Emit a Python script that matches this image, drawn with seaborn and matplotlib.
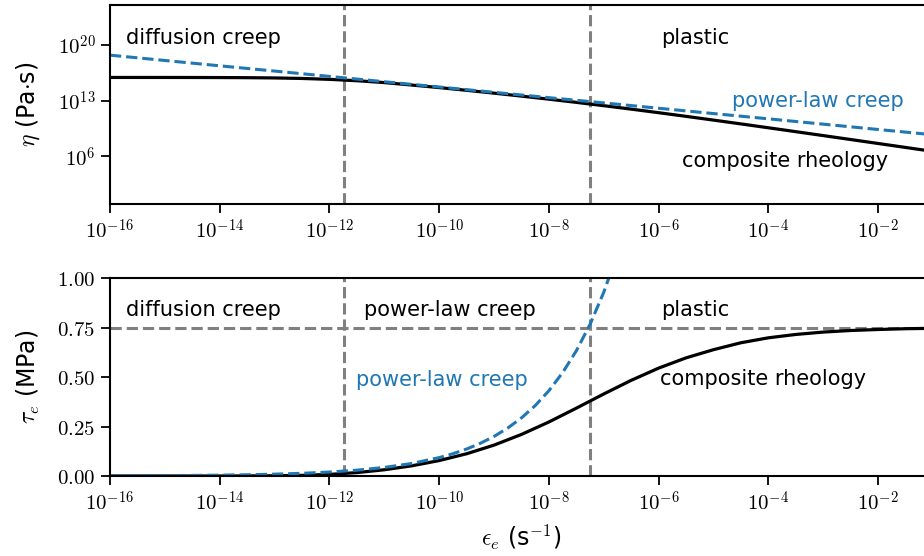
import numpy as np
import pandas as pd
import matplotlib
matplotlib.use("Agg")
import matplotlib.pyplot as plt
import seaborn as sns
from matplotlib.ticker import FixedLocator, FuncFormatter, NullLocator

# ---------------- data ----------------
# strain-rate exponents (log10 of s^-1)
rate_exp = [-16.0, -15.5, -15.0, -14.5, -14.0, -13.5, -13.0, -12.5, -12.0, -11.5,
            -11.0, -10.5, -10.0, -9.5, -9.0, -8.5, -8.0, -7.5, -7.0, -6.5,
            -6.0, -5.5, -5.0, -4.5, -4.0, -3.5, -3.0, -2.5, -2.0, -1.5, -1.0]
# log10 of composite viscosity (Pa s)
eta_composite_exp = [15.899, 15.898, 15.897, 15.893, 15.885, 15.869, 15.836, 15.772, 15.659, 15.486,
                     15.252, 14.944, 14.623, 14.281, 13.924, 13.553, 13.167, 12.767, 12.350, 11.917,
                     11.470, 11.010, 10.539, 10.061, 9.576, 9.086, 8.594, 8.099, 7.602, 7.105, 6.606]
# power-law creep viscosity
plaw_eta_rate_exp = [-16, -15, -14, -13, -12, -11, -10, -9, -8, -7, -6, -5, -4, -3, -2, -1]
plaw_eta_exp = [18.70, 18.03, 17.36, 16.70, 16.03, 15.36, 14.70, 14.03, 13.36, 12.70,
                12.03, 11.36, 10.70, 10.03, 9.36, 8.70]
# composite stress (MPa)
tau_composite = [0.0000, 0.0000, 0.0000, 0.0000, 0.0001, 0.0004, 0.0012, 0.0033, 0.0081, 0.0172,
                 0.0315, 0.0515, 0.0781, 0.1125, 0.1563, 0.2103, 0.2734, 0.3432, 0.4150, 0.4840,
                 0.5458, 0.5977, 0.6390, 0.6740, 0.6990, 0.7160, 0.7280, 0.7360, 0.7410, 0.7450, 0.7470]
# power-law creep stress (MPa)
plaw_tau_rate_exp = [-16, -15.5, -15, -14.5, -14, -13.5, -13, -12.5, -12, -11.5, -11, -10.5, -10,
                     -9.75, -9.5, -9.25, -9, -8.75, -8.5, -8.25, -8, -7.75, -7.5, -7.25, -7, -6.75, -6.5]
plaw_tau = [0.0009, 0.0014, 0.0020, 0.0029, 0.0043, 0.0063, 0.0093, 0.0136, 0.0200, 0.0294, 0.0432,
            0.0633, 0.0930, 0.1127, 0.1365, 0.1654, 0.2003, 0.2427, 0.2941, 0.3562, 0.4316, 0.5230,
            0.6335, 0.7675, 0.9298, 1.1266, 1.3648]
# regime boundaries and yield stress
boundary_exp = [-11.74, -7.26]
yield_stress = 0.75
x_tick_exp = [-16, -14, -12, -10, -8, -6, -4, -2]
eta_tick_exp = [6, 13, 20]
tau_ticks = [0.00, 0.25, 0.50, 0.75, 1.00]

# ---------------- frames ----------------
df_eta = pd.DataFrame({"rate": 10.0 ** np.array(rate_exp), "eta": 10.0 ** np.array(eta_composite_exp)})
df_eta_pl = pd.DataFrame({"rate": 10.0 ** np.array(plaw_eta_rate_exp, float), "eta": 10.0 ** np.array(plaw_eta_exp)})
df_tau = pd.DataFrame({"rate": 10.0 ** np.array(rate_exp), "tau": tau_composite})
df_tau_pl = pd.DataFrame({"rate": 10.0 ** np.array(plaw_tau_rate_exp, float), "tau": plaw_tau})

sns.set_style("ticks")
plt.rcParams["font.family"] = ["DejaVu Sans"]
plt.rcParams["mathtext.fontset"] = "cm"
plt.rcParams["text.color"] = "black"
plt.rcParams["axes.labelcolor"] = "black"
plt.rcParams["xtick.color"] = "black"
plt.rcParams["ytick.color"] = "black"
plt.rcParams["axes.edgecolor"] = "black"

W, H = 924, 556
fig = plt.figure(figsize=(W / 100, H / 100), dpi=100)
left, right = 110, 933
ax1 = fig.add_axes([left / W, 1 - 204 / H, (right - left) / W, 199 / H])
ax2 = fig.add_axes([left / W, 1 - 476 / H, (right - left) / W, 197.7 / H])

blue = "#1f77b4"
gray = "#808080"
lw_dash = 2.2
lw_solid = 2.3
fs_text = 15
fs_label = 17

# ---- top panel ----
sns.lineplot(data=df_eta, x="rate", y="eta", ax=ax1, color="black", lw=lw_solid,
             estimator=None, sort=False)
sns.lineplot(data=df_eta_pl, x="rate", y="eta", ax=ax1, color=blue, lw=lw_dash,
             linestyle="--", estimator=None, sort=False)
for b in boundary_exp:
    ax1.axvline(10.0 ** b, color=gray, lw=lw_dash, ls="--", zorder=0)
ax1.set_xscale("log")
ax1.set_yscale("log")
ax1.set_xlim(1e-16, 1e-1)
ax1.set_ylim(1e0, 1e25)

ax1.text(10 ** -15.71, 10 ** 20.9, "diffusion creep", fontsize=fs_text, va="center", ha="left")
ax1.text(10 ** -5.96, 10 ** 20.9, "plastic", fontsize=fs_text, va="center", ha="left")
ax1.text(10 ** -4.67, 10 ** 12.9, "power-law creep", fontsize=fs_text, va="center", ha="left", color=blue)
ax1.text(10 ** -5.58, 10 ** 5.4, "composite rheology", fontsize=fs_text, va="center", ha="left")
ax1.set_ylabel(r"$\eta$ (Pa$\cdot$s)", fontsize=fs_label, va="center")
ax1.set_xlabel("")

# ---- bottom panel ----
sns.lineplot(data=df_tau, x="rate", y="tau", ax=ax2, color="black", lw=lw_solid,
             estimator=None, sort=False)
sns.lineplot(data=df_tau_pl, x="rate", y="tau", ax=ax2, color=blue, lw=lw_dash,
             linestyle="--", estimator=None, sort=False)
for b in boundary_exp:
    ax2.axvline(10.0 ** b, color=gray, lw=lw_dash, ls="--", zorder=0)
ax2.axhline(yield_stress, color=gray, lw=lw_dash, ls="--", zorder=0)
ax2.set_xscale("log")
ax2.set_xlim(1e-16, 1e-1)
ax2.set_ylim(0, 1.0)

ax2.text(10 ** -15.71, 0.84, "diffusion creep", fontsize=fs_text, va="center", ha="left")
ax2.text(10 ** -11.37, 0.84, "power-law creep", fontsize=fs_text, va="center", ha="left")
ax2.text(10 ** -5.96, 0.84, "plastic", fontsize=fs_text, va="center", ha="left")
ax2.text(10 ** -11.51, 0.486, "power-law creep", fontsize=fs_text, va="center", ha="left", color=blue)
ax2.text(10 ** -5.98, 0.489, "composite rheology", fontsize=fs_text, va="center", ha="left")
ax2.set_ylabel(r"$\tau_e$ (MPa)", fontsize=fs_label, va="center")
ax2.set_xlabel(r"$\epsilon_e$ (s$^{-1}$)", fontsize=fs_label, va="center")

# ---- ticks & spines ----
logfmt = FuncFormatter(lambda v, p: r"$10^{%d}$" % int(round(np.log10(v))))
for ax in (ax1, ax2):
    ax.xaxis.set_major_locator(FixedLocator([10.0 ** e for e in x_tick_exp]))
    ax.xaxis.set_minor_locator(NullLocator())
    ax.xaxis.set_major_formatter(logfmt)
    ax.tick_params(axis="both", which="major", labelsize=15, length=6.5, width=1.3,
                   direction="out", pad=4, colors="black")
    for s in ("top", "bottom", "left"):
        ax.spines[s].set_visible(True)
        ax.spines[s].set_linewidth(1.5)
        ax.spines[s].set_color("black")
    ax.spines["right"].set_visible(False)
    ax.yaxis.set_label_coords(-0.0996, 0.5)

ax1.yaxis.set_major_locator(FixedLocator([10.0 ** e for e in eta_tick_exp]))
ax1.yaxis.set_minor_locator(NullLocator())
ax1.yaxis.set_major_formatter(logfmt)
ax2.yaxis.set_major_locator(FixedLocator(tau_ticks))
ax2.yaxis.set_major_formatter(FuncFormatter(lambda v, p: r"$%.2f$" % v))
ax2.xaxis.set_label_coords(0.5, -0.309)

fig.savefig("out.png", dpi=100)
